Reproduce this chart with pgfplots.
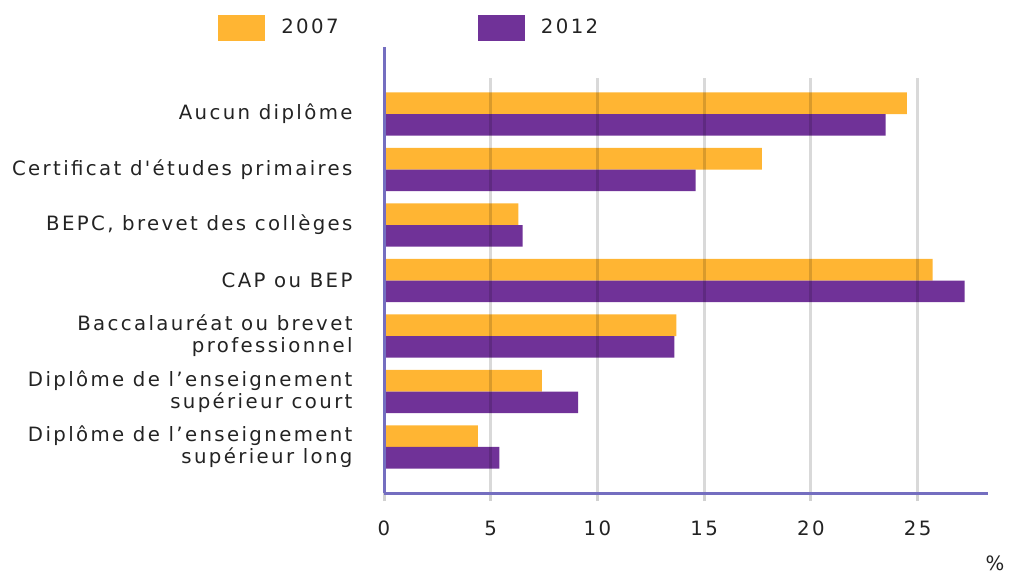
\documentclass[border=0pt]{standalone}
\usepackage{fontspec}
\setmainfont{DejaVu Sans}[Ligatures=TeXOff, LetterSpace=12]
\usepackage{pgfplots}
\pgfplotsset{compat=1.18}

\definecolor{orange07}{RGB}{255,181,51}
\definecolor{purple12}{RGB}{112,50,152}
\definecolor{axisblue}{RGB}{116,110,192}
\definecolor{txt}{RGB}{35,35,35}

\begin{document}
\fontsize{14.8pt}{16.5pt}\selectfont
\begin{tikzpicture}
\useasboundingbox (0,0) rectangle (759.75pt,431.25pt);
\begin{axis}[
  at={(288pt,61.5pt)}, anchor=south west,
  scale only axis, width=453pt, height=311.25pt,
  xbar, bar width=0.39,
  xmin=0, xmax=28.3,
  ymin=-0.829, ymax=6.649,
  axis lines*=left,
  axis line style={axisblue, line width=2.25pt},
  clip=false, axis on top,
  xtick={0,5,...,25},
  ytick={0,...,6},
  yticklabels={
    {Diplôme de l’enseignement\\supérieur long},
    {Diplôme de l’enseignement\\supérieur court},
    {Baccalauréat ou brevet\\professionnel},
    CAP ou BEP,
    {BEPC, brevet des collèges},
    Certificat d'études primaires,
    Aucun diplôme},
  yticklabel style={align=right, text=txt, xshift=-12.5pt},
  ytick style={draw=none},
  xtick style={black!18, line width=2.25pt},
  major tick length=6pt, tick align=outside,
  xticklabel style={text=txt, yshift=-9.75pt},
  /pgf/number format/assume math mode=true,
  xmajorgrids,
  grid style={black, opacity=0.15, line width=2.25pt},
  xlabel={\%},
  xlabel style={at={(axis description cs:1,0)}, anchor=center, xshift=5.25pt, yshift=-52.5pt, text=txt},
  legend columns=2,
  legend style={at={(axis description cs:-0.2748,1.1205)}, anchor=west,
    draw=none, fill=none, inner sep=0pt, text=txt,
    /tikz/every odd column/.append style={column sep=10pt},
    /tikz/every even column/.append style={column sep=102.5pt}},
]
\addplot[fill=orange07, draw=none, bar shift=0.195,
  legend image code/.code={\fill[orange07] (0pt,-9.75pt) rectangle (35.25pt,9.75pt);}]
  coordinates {(4.4,0) (7.4,1) (13.7,2) (25.7,3) (6.3,4) (17.7,5) (24.5,6)};
\addlegendentry{2007}
\addplot[fill=purple12, draw=none, bar shift=-0.195,
  legend image code/.code={\fill[purple12] (0pt,-9.75pt) rectangle (35.25pt,9.75pt);}]
  coordinates {(5.4,0) (9.1,1) (13.6,2) (27.2,3) (6.5,4) (14.6,5) (23.5,6)};
\addlegendentry{2012}
\draw[axisblue, line width=2.25pt] (axis description cs:0,1) -- ++(0pt,23.25pt);
\end{axis}
\end{tikzpicture}
\end{document}
